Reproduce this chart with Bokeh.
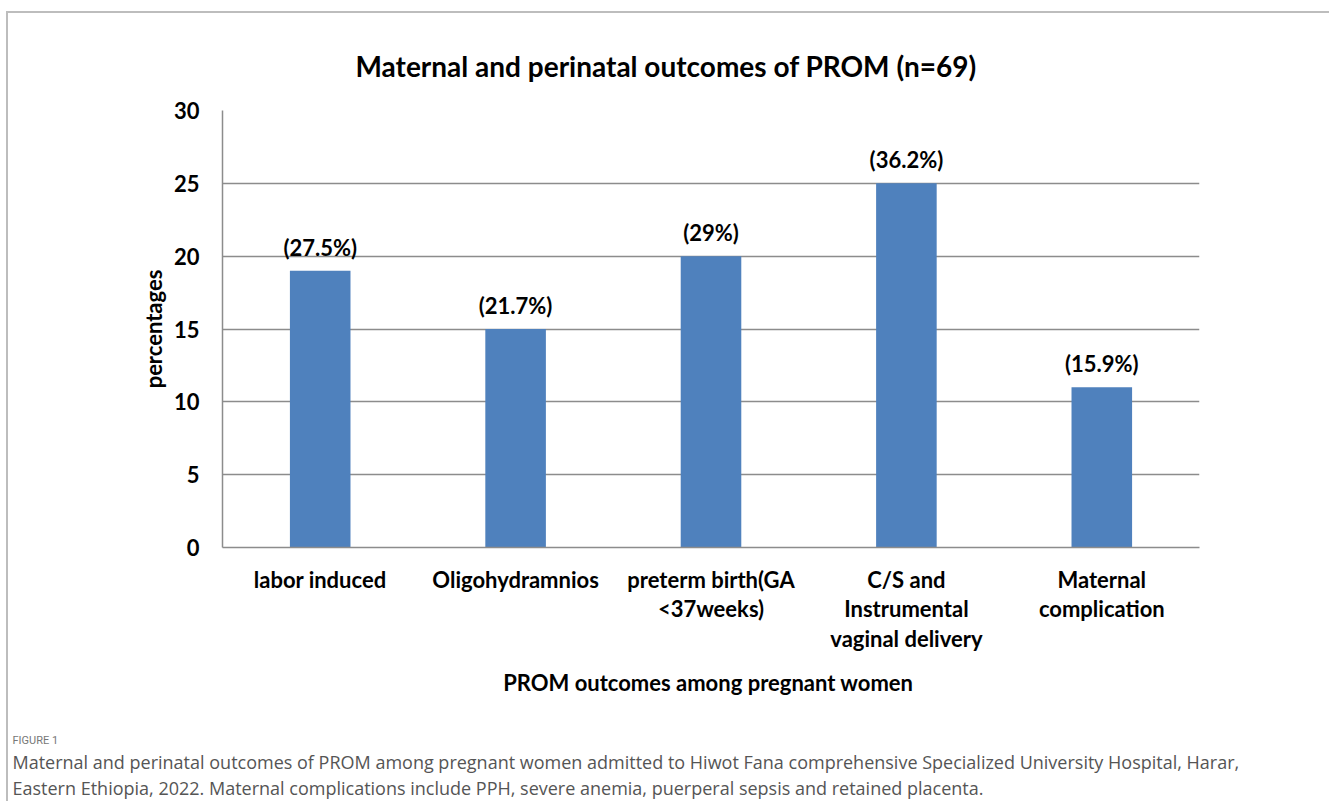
from bokeh.plotting import figure
from bokeh.models import ColumnDataSource, Range1d, FactorRange, LabelSet, FixedTicker, Title
from bokeh.core.properties import value
from bokeh.embed import file_html
from bokeh.resources import INLINE

categories = ["labor induced", "Oligohydramnios", "preterm birth(GA\n<37weeks)",
              "C/S and\nInstrumental\nvaginal delivery", "Maternal\ncomplication"]
values = [19, 15, 20, 25, 11]
percent_labels = ["(27.5%)", "(21.7%)", "(29%)", "(36.2%)", "(15.9%)"]
y_ticks = [0, 5, 10, 15, 20, 25, 30]

title_text = "Maternal and  perinatal outcomes of PROM (n=69)"
x_title = "PROM outcomes  among pregnant women"
y_title = "percentages"
fig_tag = "FIGURE 1"
caption1 = ("Maternal and perinatal outcomes of PROM among pregnant women admitted to Hiwot Fana "
            "comprehensive Specialized University Hospital, Harar,")
caption2 = "Eastern Ethiopia, 2022. Maternal complications include PPH, severe anemia, puerperal sepsis and retained placenta."

FONT = "Lato"
GRID = "#8c8c8c"
BAR = "#4f81bd"

src = ColumnDataSource(dict(cat=categories, val=values, lab=percent_labels))

p = figure(width=1323, height=790, x_range=FactorRange(*categories, range_padding=0),
           y_range=Range1d(0, 30), output_backend="svg", toolbar_location=None,
           min_border_left=214, min_border_right=132, min_border_top=97, min_border_bottom=256)
p.outline_line_color = None
p.background_fill_color = "white"
p.border_fill_color = "white"
p.styles = {"margin-top": "11px", "margin-left": "6px",
            "border-top": "2px solid #bdbdbd", "border-left": "2px solid #bdbdbd"}

p.vbar(x="cat", top="val", width=0.31, source=src, fill_color=BAR, line_color=None)

p.yaxis.ticker = FixedTicker(ticks=y_ticks)
p.xgrid.grid_line_color = None
p.ygrid.grid_line_color = GRID
p.ygrid.grid_line_width = 1.5
for ax in (p.xaxis[0], p.yaxis[0]):
    ax.axis_line_color = GRID
    ax.axis_line_width = 1.5
    ax.major_tick_line_color = None
    ax.minor_tick_line_color = None
    ax.major_label_text_font = FONT
    ax.major_label_text_font_style = "bold"
    ax.major_label_text_font_size = "22px"
    ax.major_label_text_color = "black"
    ax.axis_label_text_font = FONT
    ax.axis_label_text_font_style = "bold"
    ax.axis_label_text_font_size = "22px"
    ax.axis_label_text_color = "black"
p.xaxis.major_label_text_line_height = 1.1
p.xaxis.major_label_standoff = 12
p.yaxis.major_label_standoff = 17
p.yaxis.axis_label = y_title
p.yaxis.axis_label_standoff = 4
p.xaxis.axis_label = x_title
p.xaxis.axis_label_standoff = 14

p.add_layout(LabelSet(x="cat", y="val", text="lab", source=src, text_align="center",
                      text_baseline="bottom", y_offset=10, text_font=value(FONT),
                      text_font_style="bold", text_font_size="22px", text_color="black"))

p.title.text = title_text
p.title.align = "left"
p.title.offset = 133
p.title.text_font = FONT
p.title.text_font_style = "bold"
p.title.text_font_size = "28px"
p.title.text_color = "black"
p.title.standoff = 56

p.add_layout(Title(text=" ", text_font_size="1px", standoff=29), "below")
for txt, size, color, font, so in [(fig_tag, "11px", "#777777", "Roboto", 2),
                                   (caption1, "18px", "#555555", "Open Sans", 0),
                                   (caption2, "18px", "#555555", "Open Sans", 0)]:
    p.add_layout(Title(text=txt, align="left", offset=-210, text_font=font,
                       text_font_style="normal", text_font_size=size, text_color=color,
                       standoff=so), "below")

open("out.html", "w").write(file_html(p, INLINE))
